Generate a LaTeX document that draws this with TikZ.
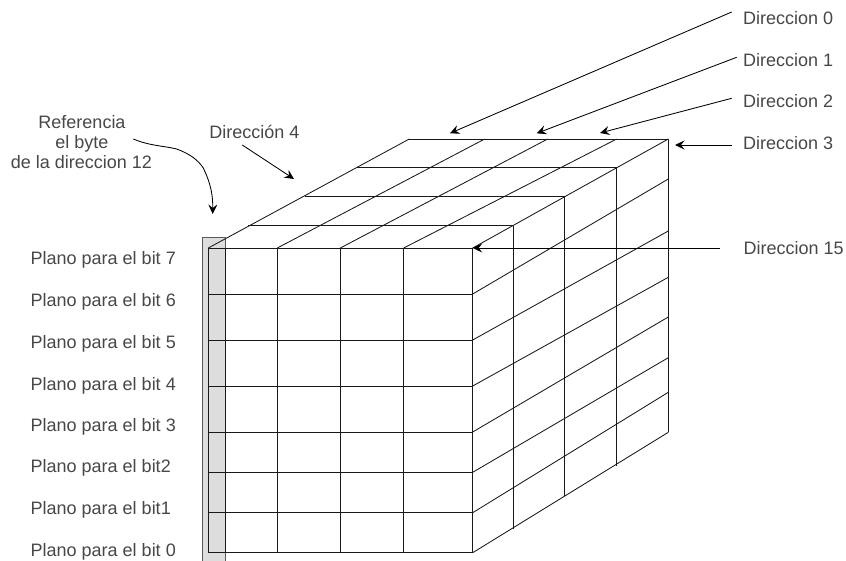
\documentclass[tikz,border=0pt]{standalone}
\usepackage{fontspec}
\setmainfont{Liberation Sans}
\usetikzlibrary{arrows.meta}
\definecolor{panelfill}{HTML}{DDDDDD}
\tikzset{
  x=1pt,y=-1pt,
  lbl/.style={inner sep=0pt,anchor=base west,text=black!72,font=\fontsize{18}{20}\selectfont},
  lblc/.style={inner sep=0pt,anchor=base,text=black!72,font=\fontsize{18}{20}\selectfont},
  grid/.style={draw=black!90,line width=0.85pt},
  ptr/.style={draw=black,line width=0.85pt,-{Stealth[length=9.5pt,width=9pt,inset=3.5pt]}},
}
\begin{document}
\begin{tikzpicture}
\useasboundingbox (0,0) rectangle (846,561);
% grey panel
\fill[panelfill] (202.7,237) rectangle (225.7,561);
\draw[draw=black!65,line width=0.95pt] (202.7,561) -- (202.7,237) -- (225.7,237) -- (225.7,561);
% front face
\foreach \y in {248,294,340,386,432,472.3,512.7,552.7}
  \draw[grid] (208.3,\y) -- (472.7,\y);
\foreach \x in {208.3,225.7,277.3,340.3,403.7,472.7}
  \draw[grid] (\x,248) -- (\x,552.7);
% top face
\draw[grid] (409.3,139) -- (668.3,139);
\draw[grid] (356.7,167.7) -- (616.7,167.7);
\draw[grid] (305,196.3) -- (564.7,196.3);
\draw[grid] (248.3,225.7) -- (512.7,225.7);
\draw[grid] (208.3,248) -- (409.3,139);
\draw[grid] (277.3,248) -- (484.7,139);
\draw[grid] (340.3,248) -- (547.7,139);
\draw[grid] (403.7,248) -- (616.7,139);
\draw[grid] (472.7,248) -- (668.3,139);
% right face
\draw[grid] (472.7,294) -- (668.3,179);
\draw[grid] (472.7,340) -- (668.3,231);
\draw[grid] (472.7,386) -- (668.3,277.3);
\draw[grid] (472.7,432) -- (668.3,317);
\draw[grid] (472.7,472.3) -- (668.3,357.7);
\draw[grid] (472.7,512.7) -- (668.3,392.3);
\draw[grid] (472.7,552.7) -- (668.3,432.3);
\draw[grid] (513,225.7) -- (513,529);
\draw[grid] (564.7,196.3) -- (564.7,495.7);
\draw[grid] (616.7,167.7) -- (616.7,466);
\draw[grid] (668.3,139) -- (668.3,432.3);
% labels
\node[lbl] (d0) at (743,24.4) {Direccion 0};
\node[lbl] (d1) at (743,66.4) {Direccion 1};
\node[lbl] (d2) at (743,107.4) {Direccion 2};
\node[lbl] (d3) at (743,149.4) {Direccion 3};
\node[lbl] (d15) at (743.5,254.4) {Direccion 15};
\node[lbl] (p7) at (30.5,265) {Plano para el bit 7};
\node[lbl] (p6) at (30.5,306.7) {Plano para el bit 6};
\node[lbl] (p5) at (30.5,348.3) {Plano para el bit 5};
\node[lbl] (p4) at (30.5,390) {Plano para el bit 4};
\node[lbl] (p3) at (30.5,431.3) {Plano para el bit 3};
\node[lbl] (p2) at (30.5,472.8) {Plano para el bit2};
\node[lbl] (p1) at (30.5,514.3) {Plano para el bit1};
\node[lbl] (p0) at (30.5,556) {Plano para el bit 0};
\node[lblc] (r1) at (82,128.3) {Referencia};
\node[lblc] (r2) at (82,148.7) {el byte};
\node[lblc] (r3) at (81.5,169) {de la direccion 12};
\node[lblc] (d4) at (254.3,139) {Dirección 4};
% connector ends
\coordinate (s0) at (731.7,12);   \coordinate (e0) at (450,133.3);
\coordinate (s1) at (736.7,57.3); \coordinate (e1) at (536.7,133.3);
\coordinate (s2) at (731.7,98.3); \coordinate (e2) at (600,133);
\coordinate (s3) at (731.7,145);  \coordinate (e3) at (675,145);
\coordinate (s15) at (720,248);   \coordinate (e15) at (472.7,248);
\coordinate (s4) at (242.3,145);  \coordinate (e4) at (294,179);
\coordinate (sr) at (133.3,139);  \coordinate (er) at (212.7,214);
\draw[ptr] (s0) -- (e0);
\draw[ptr] (s1) -- (e1);
\draw[ptr] (s2) -- (e2);
\draw[ptr] (s3) -- (e3);
\draw[ptr] (s15) -- (e15);
\draw[ptr] (s4) -- (e4);
\draw[ptr] (sr) .. controls (150,146) and (165,146) .. (176.7,149)
  .. controls (190,154) and (198,160) .. (203.3,168)
  .. controls (208,178) and (213,190) .. (er);
\end{tikzpicture}
\end{document}
